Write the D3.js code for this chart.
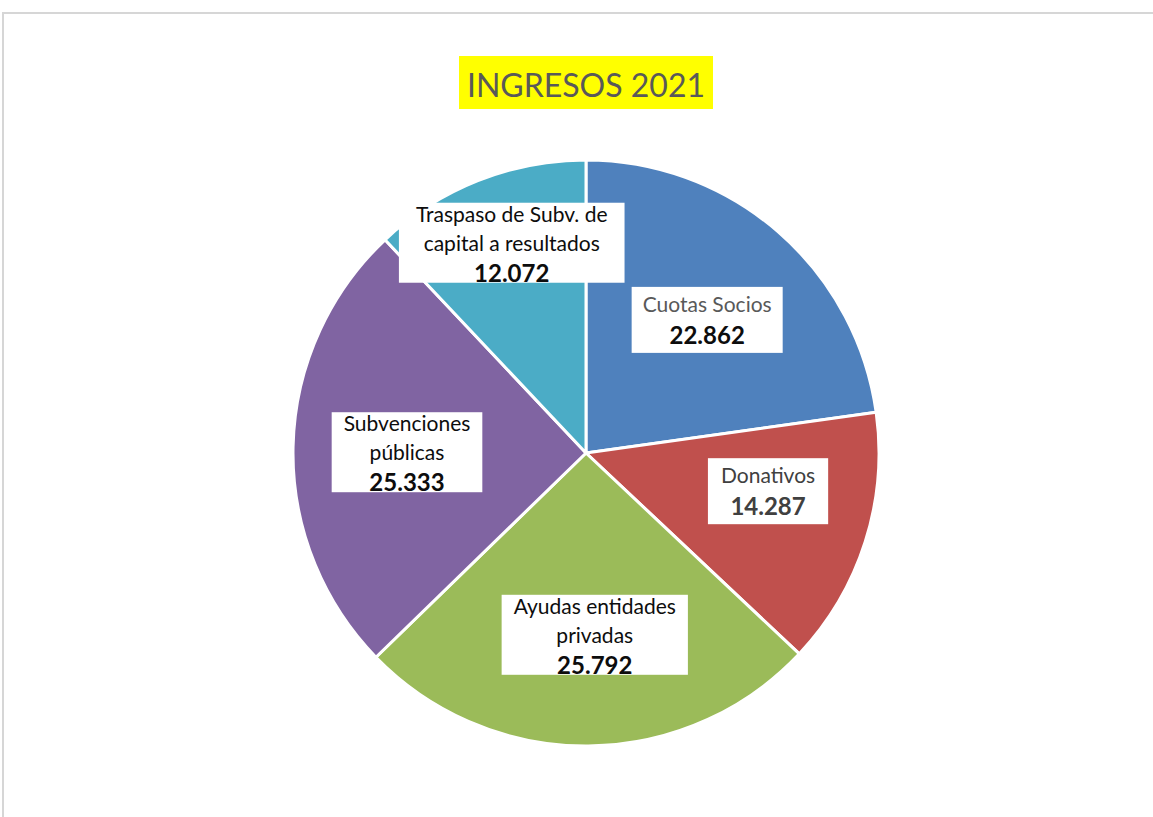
<!DOCTYPE html>
<html><head><meta charset="utf-8">
<script src="https://cdn.jsdelivr.net/npm/d3@7"></script>
<style>html,body{margin:0;padding:0;background:#fff;}svg{display:block;}</style>
</head><body>
<svg id="chart" width="1153" height="817"></svg>
<script>
const title = "INGRESOS 2021";
const categories = ["Cuotas Socios", "Donativos", "Ayudas entidades privadas", "Subvenciones públicas", "Traspaso de Subv. de capital a resultados"];
const values = [22.862, 14.287, 25.792, 25.333, 12.072];
const valueLabels = ["22.862", "14.287", "25.792", "25.333", "12.072"];
const labelLines = [["Cuotas Socios"], ["Donativos"], ["Ayudas entidades", "privadas"], ["Subvenciones", "públicas"], ["Traspaso de Subv. de", "capital a resultados"]];

// style / layout config
const colors = ["#4F81BD", "#C0504D", "#9BBB59", "#8064A2", "#4BACC6"];
const nameColors = ["#595959", "#404040", "#0d0d0d", "#0d0d0d", "#0d0d0d"];
const valueColors = ["#0d0d0d", "#404040", "#0d0d0d", "#0d0d0d", "#0d0d0d"];
const labelR = [180, 186, 182, 179, 223];
const labelDA = [1.3, -5.8, -2.3, -1.0, 2.2];
const labelPad = [11, 13, 12, 12, 17];
const FONT = "Lato, 'Open Sans', sans-serif";

const svg = d3.select("#chart");
const W = 1153, H = 817;
svg.append("rect").attr("x", 3).attr("y", 13).attr("width", W + 10).attr("height", H + 10)
  .attr("fill", "#fff").attr("stroke", "#d6d6d6").attr("stroke-width", 2);

const cx = 586, cy = 453, R = 293;
const g = svg.append("g").attr("transform", `translate(${cx},${cy})`);
const pie = d3.pie().sort(null).value(d => d)(values);
const arc = d3.arc().innerRadius(0).outerRadius(R);
g.selectAll("path.slice").data(pie).join("path").attr("class", "slice")
  .attr("d", arc).attr("fill", (d, i) => colors[i])
  .attr("stroke", "#fff").attr("stroke-width", 3).attr("stroke-linejoin", "round");

// title
const tg = svg.append("g");
tg.append("rect").attr("x", cx - 127).attr("y", 56).attr("width", 254).attr("height", 53).attr("fill", "#FFFF00");
tg.append("text").attr("x", cx).attr("y", 97).attr("text-anchor", "middle")
  .attr("font-family", FONT).attr("font-size", 32).attr("fill", "#595959").text(title);

// labels
pie.forEach((d, i) => {
  const mid = (d.startAngle + d.endAngle) / 2 + labelDA[i] * Math.PI / 180;
  const r = labelR[i];
  const lx = r * Math.sin(mid), ly = -r * Math.cos(mid);
  const lg = g.append("g").attr("transform", `translate(${lx},${ly})`);
  const lines = labelLines[i];
  const n = lines.length + 1;
  const boxH = n === 3 ? 80 : 66;
  const base = n === 3 ? [19, 48, 79] : [25, 57];
  const top = -boxH / 2;
  const rect = lg.append("rect").attr("fill", "#fff");
  const texts = [];
  lines.forEach((ln, k) => {
    texts.push(lg.append("text").attr("x", 0).attr("y", top + base[k]).attr("text-anchor", "middle")
      .attr("font-family", FONT).attr("font-size", 21).attr("fill", nameColors[i]).text(ln));
  });
  texts.push(lg.append("text").attr("x", 0).attr("y", top + base[n - 1]).attr("text-anchor", "middle")
    .attr("font-family", FONT).attr("font-size", 24).attr("font-weight", "bold").attr("fill", valueColors[i]).text(valueLabels[i]));
  const w = d3.max(texts, t => t.node().getComputedTextLength());
  const pad = labelPad[i];
  rect.attr("x", -w / 2 - pad).attr("y", top).attr("width", w + 2 * pad).attr("height", boxH);
  if (n === 3) {
    const cid = "clip" + i;
    lg.append("clipPath").attr("id", cid).append("rect").attr("x", -w / 2 - pad - 2).attr("y", top - 30).attr("width", w + 2 * pad + 4).attr("height", boxH + 30);
    texts.forEach(t => t.attr("clip-path", `url(#${cid})`));
  }
});
</script>
</body></html>
